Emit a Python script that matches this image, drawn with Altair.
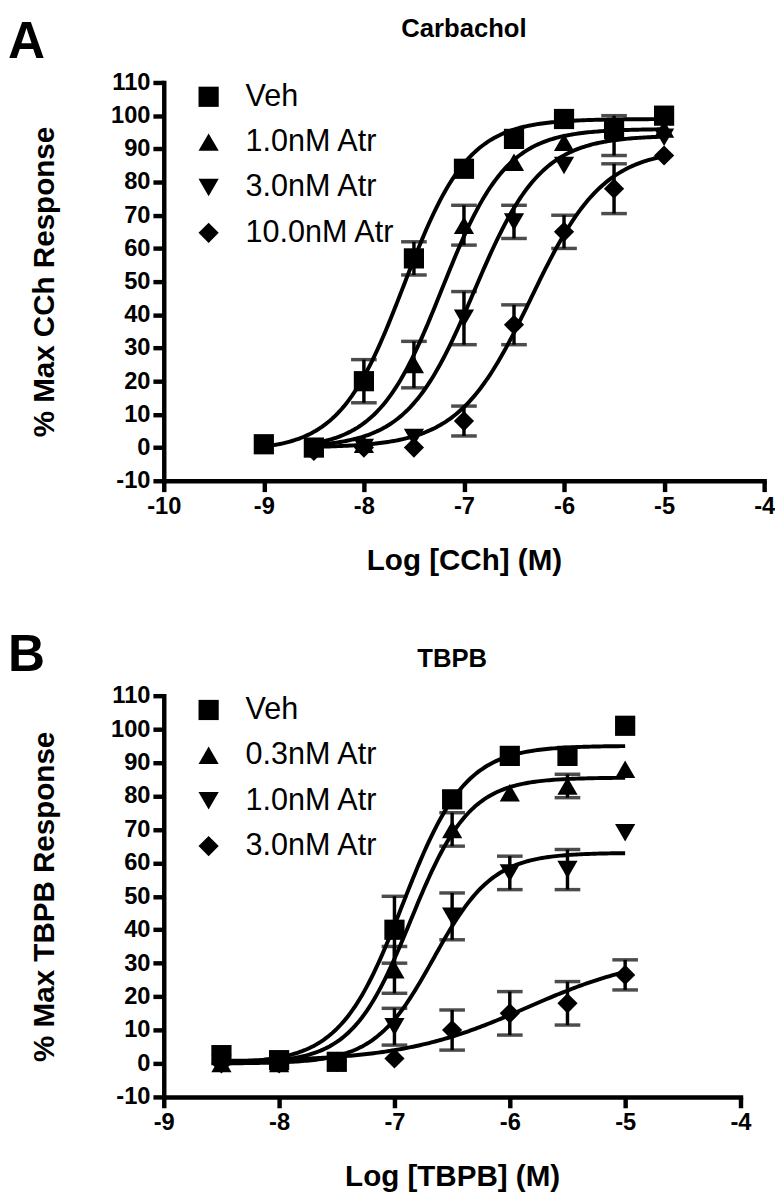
import altair as alt
import pandas as pd

FONT = "Liberation Sans, Arial, Helvetica, sans-serif"
SHAPES = ["square", "triangle-up", "triangle-down", "diamond"]

# ---------------- Panel A : Carbachol ----------------
a_series = ["Veh", "1.0nM Atr", "3.0nM Atr", "10.0nM Atr"]
a_x_veh = [-9, -8.5, -8, -7.5, -7, -6.5, -6, -5.5, -5]
a_y_veh = [1, 0, 20, 57, 84, 93, 99, 96, 100]
a_e_veh = [0, 0, 6.5, 5, 0, 0, 0, 0, 0]
a_x_atr = [-8.5, -8, -7.5, -7, -6.5, -6, -5.5, -5]
a_y_1nm = [0, 1, 25, 67, 86, 92, 95, 96]
a_e_1nm = [0, 0, 7, 6, 0, 0, 0, 0]
a_y_3nm = [-1, 0, 3, 39, 68, 85, 94, 93.5]
a_e_3nm = [0, 0, 0, 8, 5, 0, 6, 0]
a_y_10nm = [-1, 0, 0, 8, 37, 65, 78, 88]
a_e_10nm = [0, 0, 0, 4.5, 6, 5, 7.5, 0]
# fitted curve parameters (bottom, top, logEC50, Hill slope, start)
a_bottom = [-1, -0.5, 0, 0]
a_top = [99, 96, 94, 90]
a_logec50 = [-7.6, -7.22, -6.9, -6.33]
a_hill = [1.35, 1.35, 1.3, 1.2]
a_start = [-9, -8.5, -8.5, -8.5]
a_ticks_x = [-10, -9, -8, -7, -6, -5, -4]

# ---------------- Panel B : TBPB ----------------
b_series = ["Veh", "0.3nM Atr", "1.0nM Atr", "3.0nM Atr"]
b_x = [-8.5, -8, -7.5, -7, -6.5, -6, -5.5, -5]
b_y_veh = [2.5, 1, 0.5, 40, 79, 92, 92, 101]
b_e_veh = [0, 0, 0, 10, 0, 0, 0, 0]
b_y_03nm = [0, 0, 0.5, 28, 70, 81, 83, 88]
b_e_03nm = [0, 0, 0, 7, 5, 0, 3.5, 0]
b_y_1nm = [0, 0, 0.5, 11, 44, 57, 58, 69]
b_e_1nm = [0, 0, 0, 5.5, 7, 5, 6, 0]
b_y_3nm = [0, 0, 0.5, 1.5, 10, 15, 18, 26.5]
b_e_3nm = [0, 0, 0, 0, 6, 6.5, 6.5, 4.5]
b_bottom = [0, 0, 0, 0.5]
b_top = [95, 85.5, 63, 33]
b_logec50 = [-6.93, -6.86, -6.66, -5.85]
b_hill = [1.6, 1.7, 1.7, 0.8]
b_start = [-8.5, -8.5, -8.5, -8.5]
b_ticks_x = [-9, -8, -7, -6, -5, -4]

y_ticks = list(range(-10, 111, 10))


def points_df(series, xs, ys, es):
    rows = []
    for s, x, y, e in zip(series, xs, ys, es):
        for xi, yi, ei in zip(x, y, e):
            rows.append({"series": s, "x": xi, "y": yi, "err": ei})
    return pd.DataFrame(rows)


def params_df(series, bottom, top, ec, hill, start):
    return pd.DataFrame({"series": series, "bottom": bottom, "top": top,
                         "ec": ec, "hill": hill, "x0": start, "x1": [-5] * len(series)})


def axis_common(title, values, pad):
    return alt.Axis(values=values, title=title, labelExpr="'' + datum.value", grid=False,
                    domainColor="black", domainWidth=4.5, tickColor="black", tickWidth=4.5,
                    tickSize=11, labelFont=FONT, labelFontSize=24, labelFontWeight="bold",
                    labelColor="black", labelPadding=3, titleFont=FONT, titleFontSize=30,
                    titleFontWeight="bold", titleColor="black", titlePadding=pad,
                    labelFlush=False, labelOverlap=False, domainCap="square")


def panel(series, df, pdf, xdom, xticks, xtitle, ytitle, title, letter, width, height,
          title_y):
    xs = alt.Scale(domain=xdom, nice=False, zero=False)
    ys = alt.Scale(domain=[-10, 110], nice=False, zero=False)
    xa = axis_common(xtitle, xticks, 28)
    ya = axis_common(ytitle, y_ticks, 52)
    shape = alt.Shape("series:N", scale=alt.Scale(domain=series, range=SHAPES),
                      legend=alt.Legend(title=None, orient="none", legendX=30, legendY=-1,
                                        labelFont=FONT, labelFontSize=31, labelColor="black",
                                        symbolSize=420, symbolFillColor="black",
                                        symbolStrokeColor="black", symbolStrokeWidth=0,
                                        rowPadding=14, labelOffset=22, padding=0))

    curves = alt.Chart(pdf).transform_calculate(
        xs="sequence(datum.x0, datum.x1 + 0.001, 0.02)"
    ).transform_flatten(["xs"]).transform_calculate(
        yfit="datum.bottom + (datum.top - datum.bottom) / (1 + pow(10, (datum.ec - datum.xs) * datum.hill))"
    ).mark_line(color="black", strokeWidth=4).encode(
        x=alt.X("xs:Q", scale=xs, axis=xa),
        y=alt.Y("yfit:Q", scale=ys, axis=ya),
        detail="series:N",
    )

    base_err = alt.Chart(df).transform_filter("datum.err > 0").transform_calculate(
        lo="datum.y - datum.err", hi="datum.y + datum.err")
    rules = base_err.mark_rule(color="black", strokeWidth=3.5).encode(
        x=alt.X("x:Q", scale=xs, axis=xa), y=alt.Y("lo:Q", scale=ys, axis=ya), y2="hi:Q")
    cap_lo = base_err.mark_tick(orient="horizontal", color="black", size=26, thickness=3.5).encode(
        x=alt.X("x:Q", scale=xs, axis=xa), y=alt.Y("lo:Q", scale=ys, axis=ya))
    cap_hi = base_err.mark_tick(orient="horizontal", color="black", size=26, thickness=3.5).encode(
        x=alt.X("x:Q", scale=xs, axis=xa), y=alt.Y("hi:Q", scale=ys, axis=ya))

    pts = alt.Chart(df).mark_point(filled=True, color="black", size=420, opacity=1).encode(
        x=alt.X("x:Q", scale=xs, axis=xa), y=alt.Y("y:Q", scale=ys, axis=ya), shape=shape)

    ttl = alt.Chart(pd.DataFrame({"t": [title]})).mark_text(
        font=FONT, fontSize=26, fontWeight="bold", color="black", align="center",
        baseline="alphabetic").encode(text="t:N", x=alt.value(width / 2), y=alt.value(title_y))
    let = alt.Chart(pd.DataFrame({"t": [letter]})).mark_text(
        font=FONT, fontSize=52, fontWeight="bold", color="black", align="left",
        baseline="alphabetic").encode(text="t:N", x=alt.value(-158), y=alt.value(-25))

    return alt.layer(curves, rules, cap_lo, cap_hi, pts, ttl, let).properties(
        width=width, height=height)


dfa = points_df(a_series, [a_x_veh, a_x_atr, a_x_atr, a_x_atr],
                [a_y_veh, a_y_1nm, a_y_3nm, a_y_10nm],
                [a_e_veh, a_e_1nm, a_e_3nm, a_e_10nm])
pdfa = params_df(a_series, a_bottom, a_top, a_logec50, a_hill, a_start)
dfb = points_df(b_series, [b_x] * 4, [b_y_veh, b_y_03nm, b_y_1nm, b_y_3nm],
                [b_e_veh, b_e_03nm, b_e_1nm, b_e_3nm])
pdfb = params_df(b_series, b_bottom, b_top, b_logec50, b_hill, b_start)

pa = panel(a_series, dfa, pdfa, [-10, -4], a_ticks_x, "Log [CCh] (M)",
           "% Max CCh Response", "Carbachol", "A", 609, 404, -46)
pb = panel(b_series, dfb, pdfb, [-9, -4], b_ticks_x, "Log [TBPB] (M)",
           "% Max TBPB Response", "TBPB", "B", 585, 407, -29)

chart = alt.vconcat(pa, pb, spacing=55, padding={"left": 0, "top": 0, "right": 0, "bottom": 0}
                    ).resolve_scale(x="independent", y="independent", shape="independent"
                    ).resolve_legend(shape="independent").configure_view(strokeWidth=0
                    ).configure_axis(labelOverlap=False)

chart.save("out.html", embed_options={"renderer": "svg", "actions": False})
